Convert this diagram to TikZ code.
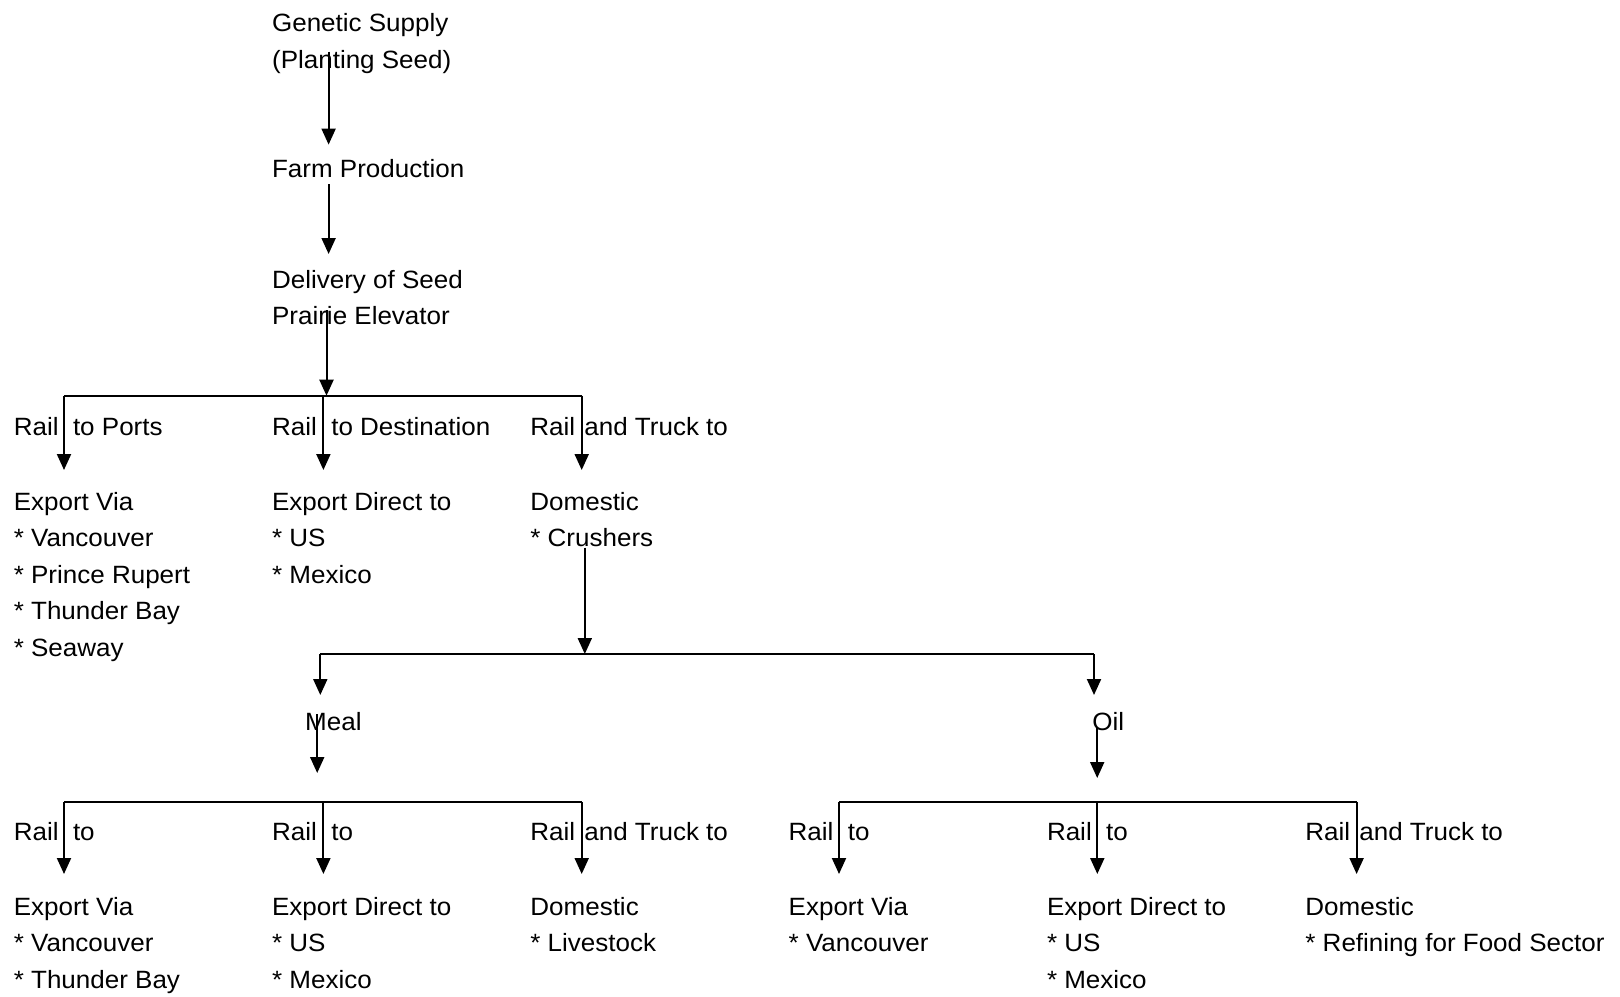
\documentclass[tikz,border=0pt]{standalone}
\usepackage{fontspec}
\setmainfont[FakeStretch=1.04]{Liberation Sans}
\usetikzlibrary{arrows.meta}
\begin{document}
\begin{tikzpicture}[x=0.5pt,y=-0.5pt]
            \tikzstyle{stage}=[anchor=north west,inner sep=0pt,align=left,font=\fontsize{12.5}{18.25}\selectfont]
            \tikzstyle{flow}=[line width=1pt,-{Triangle[width=7pt,length=8pt]}]
            \tikzstyle{bar}=[line width=1pt]
            \useasboundingbox (0,0) rectangle (1620,996);
            % seed to elevator
            \node[stage] (gen) at (271.7,13) {Genetic Supply\\(Planting Seed)};
            \node[stage] (farm) at (271.7,159) {Farm Production};
            \node[stage] (deliv) at (271.7,269.5) {Delivery of Seed\\Prairie Elevator};
            \coordinate (s1) at (328.6,51.7);
            \coordinate (e1) at (328.6,144.6);
            \coordinate (s2) at (328.6,184);
            \coordinate (e2) at (328.6,254);
            \coordinate (s3) at (326.5,310);
            \coordinate (j1) at (326.5,395.7);
            \draw[flow] (s1) -- (e1);
            \draw[flow] (s2) -- (e2);
            \draw[flow] (s3) -- (j1);
            % first split
            \node[stage] (railA) at (13.4,417) {Rail \ to Ports};
            \node[stage] (railB) at (271.7,417) {Rail \ to Destination};
            \node[stage] (railC) at (530,417) {Rail \kern1pt and Truck to};
            \node[stage] (expA) at (13.4,491.5) {Export Via\\* Vancouver\\* Prince Rupert\\* Thunder Bay\\* Seaway};
            \node[stage] (expB) at (271.7,491.5) {Export Direct to\\* US\\* Mexico};
            \node[stage] (dom) at (530,491.5) {Domestic\\* Crushers};
            \coordinate (l1) at (64,395.7);
            \coordinate (r1) at (581.7,395.7);
            \draw[bar] (l1) -- (r1);
            \foreach \x [count=\i] in {64,323.4,581.7} {
                \coordinate (up\i) at (\x,395.7);
                \coordinate (dn\i) at (\x,470);
                \draw[flow] (up\i) -- (dn\i);
            }
            % crushers
            \coordinate (s4) at (584.8,547.6);
            \coordinate (j2) at (584.8,654);
            \draw[flow] (s4) -- (j2);
            \coordinate (l2) at (320.3,654);
            \coordinate (r2) at (1094,654);
            \draw[bar] (l2) -- (r2);
            \coordinate (dm) at (320.3,695);
            \coordinate (do) at (1094,695);
            \draw[flow] (l2) -- (dm);
            \draw[flow] (r2) -- (do);
            \node[stage] (meal) at (304.8,711.5) {Meal};
            \node[stage] (oil) at (1092,711.5) {Oil};
            \coordinate (s5) at (317.2,714);
            \coordinate (e5) at (317.2,773);
            \coordinate (s6) at (1097.2,728.4);
            \coordinate (e6) at (1097.2,778);
            \draw[flow] (s5) -- (e5);
            \draw[flow] (s6) -- (e6);
            % meal and oil splits
            \coordinate (l3) at (64,801.8);
            \coordinate (r3) at (581.7,801.8);
            \coordinate (l4) at (839,801.8);
            \coordinate (r4) at (1356.6,801.8);
            \draw[bar] (l3) -- (r3);
            \draw[bar] (l4) -- (r4);
            \foreach \x [count=\i] in {64,323.4,581.7,839,1097.3,1356.6} {
                \coordinate (top\i) at (\x,801.8);
                \coordinate (tip\i) at (\x,874);
                \draw[flow] (top\i) -- (tip\i);
            }
            \node[stage] (mrailA) at (13.4,822) {Rail \ to};
            \node[stage] (mrailB) at (271.7,822) {Rail \ to};
            \node[stage] (mrailC) at (530,822) {Rail \kern1pt and Truck to};
            \node[stage] (orailA) at (788.3,822) {Rail \ to};
            \node[stage] (orailB) at (1046.6,822) {Rail \ to};
            \node[stage] (orailC) at (1305,822) {Rail \kern1pt and Truck to};
            \node[stage] (mealA) at (13.4,896.5) {Export Via\\* Vancouver\\* Thunder Bay};
            \node[stage] (mealB) at (271.7,896.5) {Export Direct to\\* US\\* Mexico};
            \node[stage] (mealC) at (530,896.5) {Domestic\\* Livestock};
            \node[stage] (oilA) at (788.3,896.5) {Export Via\\* Vancouver};
            \node[stage] (oilB) at (1046.6,896.5) {Export Direct to\\* US\\* Mexico};
            \node[stage] (oilC) at (1305,896.5) {Domestic\\* Refining for Food Sector};
\end{tikzpicture}
\end{document}
